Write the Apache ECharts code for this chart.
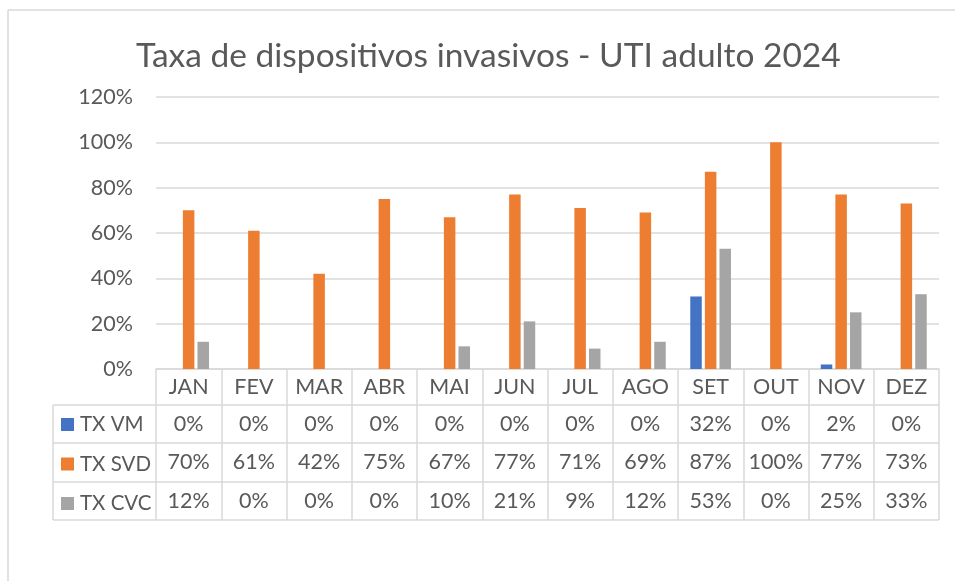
<!DOCTYPE html>
<html><head><meta charset="utf-8">
<script src="https://cdn.jsdelivr.net/npm/echarts@6/dist/echarts.min.js"></script>
<style>html,body{margin:0;padding:0;background:#fff}#c{width:955px;height:581px}</style>
</head><body><div id="c"></div>
<script>
const titleText = 'Taxa de dispositivos invasivos - UTI adulto 2024';
const months = ['JAN','FEV','MAR','ABR','MAI','JUN','JUL','AGO','SET','OUT','NOV','DEZ'];
const seriesNames = ['TX VM','TX SVD','TX CVC'];
const txVM  = [0,0,0,0,0,0,0,0,32,0,2,0];
const txSVD = [70,61,42,75,67,77,71,69,87,100,77,73];
const txCVC = [12,0,0,0,10,21,9,12,53,0,25,33];
const yTicks = [0,20,40,60,80,100,120];
const colors = ['#4472C4','#ED7D31','#A5A5A5'];

const FONT = 'Lato';
const FS = 21.5;
const TXT = '#595959';
const LINE = '#d9d9d9';
const rows = [txVM, txSVD, txCVC];
const rowCenters = [424, 462.5, 501];
const axisY = 369;

const xAxes = [{
  type:'category', data: months, boundaryGap:true,
  axisLine:{show:true, lineStyle:{color:LINE, width:1.5}},
  axisTick:{show:true, interval:0, length:151, lineStyle:{color:LINE, width:1.5}},
  axisLabel:{color:TXT, fontFamily:FONT, fontSize:FS, margin:18, verticalAlign:'middle', interval:0}
}];
rows.forEach((arr, i) => {
  xAxes.push({
    type:'category', data: months, position:'bottom', offset:0,
    axisLine:{show:false}, axisTick:{show:false}, splitLine:{show:false},
    axisLabel:{color:TXT, fontFamily:FONT, fontSize:FS, interval:0, verticalAlign:'middle',
      margin: rowCenters[i] - axisY,
      formatter: (v, idx) => arr[idx] + '%'}
  });
});

const hLines = [405, 443, 482, 520].map(y => ({
  type:'line', shape:{x1:53, y1:y, x2:939, y2:y}, style:{stroke:LINE, lineWidth:1.5}, silent:true
}));

const chart = echarts.init(document.getElementById('c'));
chart.setOption({
  backgroundColor:'#fff',
  animation:false,
  title:{text:titleText, left:131, top:34,
    textStyle:{fontFamily:FONT, fontSize:33.5, fontWeight:'normal', color:TXT}},
  legend:{orient:'vertical', left:61, top:414, padding:0, icon:'rect', itemWidth:13, itemHeight:13,
    itemGap:18.5, data:seriesNames,
    textStyle:{fontFamily:FONT, fontSize:20.5, color:TXT, lineHeight:20, padding:[0,0,0,1]}},
  grid:{left:156, right:16, top:97, bottom:212, containLabel:false},
  xAxis: xAxes,
  yAxis:{type:'value', min:yTicks[0], max:yTicks[yTicks.length-1], interval:20,
    axisLine:{show:false}, axisTick:{show:false},
    axisLabel:{color:TXT, fontFamily:FONT, fontSize:FS, margin:23, formatter:'{value}%'},
    splitLine:{lineStyle:{color:LINE, width:1.5}}},
  graphic: [
    {type:'line', shape:{x1:8, y1:10, x2:955, y2:10}, style:{stroke:LINE, lineWidth:1.5}, silent:true},
    {type:'line', shape:{x1:8, y1:10, x2:8, y2:581}, style:{stroke:LINE, lineWidth:1.5}, silent:true},
    {type:'line', shape:{x1:53, y1:405, x2:53, y2:520}, style:{stroke:LINE, lineWidth:1.5}, silent:true}
  ].concat(hLines),
  series: rows.map((arr, i) => ({
    name: seriesNames[i], type:'bar', data: arr, xAxisIndex:0,
    barWidth:11.5, barGap:'27%', itemStyle:{color:colors[i]}
  }))
});
</script></body></html>
